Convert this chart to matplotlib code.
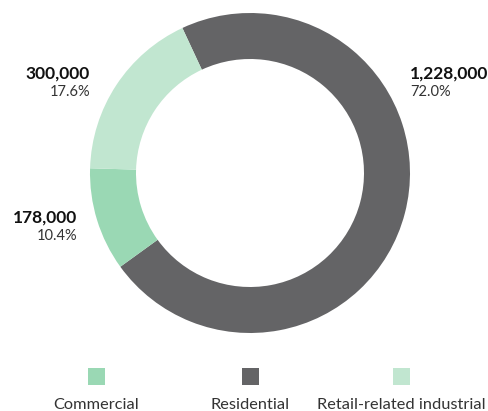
import matplotlib.pyplot as plt
from matplotlib.patches import Rectangle

# Sector totals
categories = ["Residential", "Commercial", "Retail-related industrial"]
values = [1228000, 178000, 300000]
colors = ["#646466", "#9ad8b4", "#c1e6d0"]

legend_order = ["Commercial", "Residential", "Retail-related industrial"]

plt.rcParams["font.family"] = ["Lato", "DejaVu Sans"]

W, H = 488, 411
fig = plt.figure(figsize=(W / 100, H / 100), dpi=100)
ax = fig.add_axes([0, 0, 1, 1])

cx, cy, r = 250, H - 173, 160
ax.pie(values, colors=colors, startangle=115, counterclock=False,
       center=(cx, cy), radius=r, frame=True,
       wedgeprops=dict(width=46, linewidth=0))
ax.set_xlim(0, W)
ax.set_ylim(0, H)
ax.set_aspect("auto")
ax.axis("off")

total = sum(values)
# label anchor: (x, y of value line, alignment)
label_pos = {
    "Residential": (410, 74, "left"),
    "Retail-related industrial": (90, 74, "right"),
    "Commercial": (77, 218, "right"),
}
for cat, v in zip(categories, values):
    x, y, ha = label_pos[cat]
    ax.text(x, H - y, f"{v:,}", ha=ha, va="center", fontsize=12.5,
            fontweight="bold", color="#111111")
    ax.text(x, H - y - 18, f"{v / total * 100:.1f}%", ha=ha, va="center",
            fontsize=10.5, color="#333333")

# legend: swatch above label
col_of = dict(zip(categories, colors))
leg_x = [96, 250, 401]
for x, cat in zip(leg_x, legend_order):
    ax.add_patch(Rectangle((x - 8.5, H - 376 - 8.5), 17, 17,
                           color=col_of[cat], linewidth=0))
    ax.text(x, H - 405, cat, ha="center", va="center", fontsize=11.8,
            color="#333333")

fig.savefig("out.png", dpi=100)
